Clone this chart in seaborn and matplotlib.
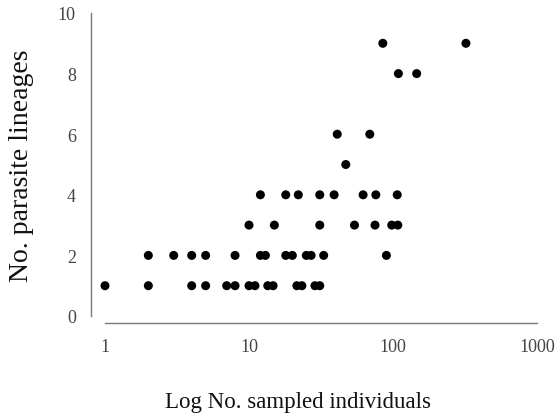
import matplotlib
matplotlib.use("Agg")
import matplotlib.pyplot as plt
import seaborn as sns
import pandas as pd
from matplotlib.ticker import FixedLocator, FixedFormatter, NullLocator

# Data (sample size, number of parasite lineages)
n_lineages_1 = [1, 2, 4, 5, 7, 8, 10, 11, 13.5, 14.7, 21.5, 23.3, 28.7, 31]
n_lineages_2 = [2, 3, 4, 5, 8, 12, 13, 18, 20, 25, 27, 33, 90]
n_lineages_3 = [10, 15, 31, 54, 75, 98, 108]
n_lineages_4 = [12, 18, 22, 31, 39, 62, 76, 107]
n_lineages_5 = [47]
n_lineages_6 = [41, 69]
n_lineages_8 = [109, 146]
n_lineages_9 = [85, 321]

x_ticks = [1, 10, 100, 1000]
x_tick_labels = ["1", "10", "100", "1000"]
y_ticks = [0, 2, 4, 6, 8, 10]

groups = {1: n_lineages_1, 2: n_lineages_2, 3: n_lineages_3, 4: n_lineages_4,
          5: n_lineages_5, 6: n_lineages_6, 8: n_lineages_8, 9: n_lineages_9}
rows = []
for lin, xs in groups.items():
    for x in xs:
        rows.append({"sampled": x, "lineages": lin})
df = pd.DataFrame(rows)

sns.set_style("white")
plt.rcParams["font.family"] = ["Liberation Serif", "DejaVu Serif"]

fig = plt.figure(figsize=(5.59, 4.14), dpi=100)
W, H = 559, 414
ax = fig.add_axes([105 / W, 1 - 317 / H, (537 - 105) / W, (317 - 14) / H])

sns.scatterplot(data=df, x="sampled", y="lineages", ax=ax, color="black",
                s=42, edgecolor="none", linewidth=0, clip_on=False, legend=False)

ax.set_xscale("log")
ax.set_xlim(1, 1000)
ax.set_ylim(0, 10)
ax.xaxis.set_major_locator(FixedLocator(x_ticks))
ax.xaxis.set_major_formatter(FixedFormatter(x_tick_labels))
ax.xaxis.set_minor_locator(NullLocator())
ax.set_yticks(y_ticks)

sns.despine(ax=ax)
ax.spines["left"].set_position(("outward", 10))
ax.spines["bottom"].set_position(("outward", 5))
for sp in ["left", "bottom"]:
    ax.spines[sp].set_color("#7a7a7a")
    ax.spines[sp].set_linewidth(1.0)

ax.tick_params(axis="both", direction="out", length=3, width=1.0, color="#7a7a7a",
               labelsize=13, labelcolor="#444444")
ax.tick_params(axis="y", pad=8)
ax.tick_params(axis="x", pad=8)

ax.set_xlabel("Log No. sampled individuals", fontsize=16.5, color="#111111", labelpad=26)
ax.xaxis.label.set_x(0.447)
ax.set_ylabel("No. parasite lineages", fontsize=20, color="#111111", labelpad=17)

fig.savefig("out.png", dpi=100)
